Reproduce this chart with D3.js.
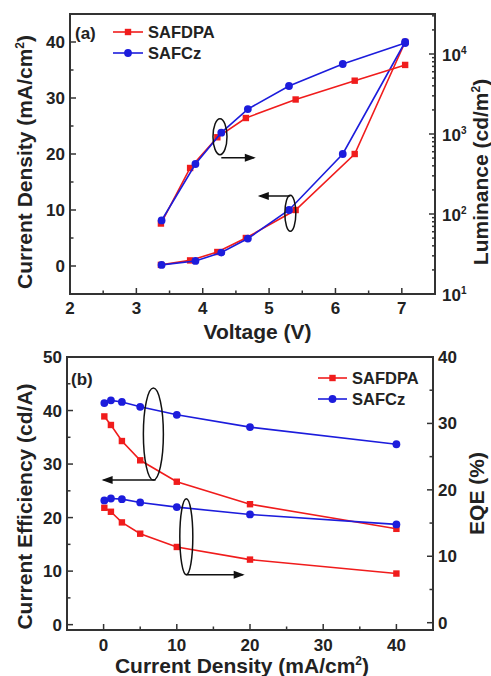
<!DOCTYPE html>
<html><head><meta charset="utf-8">
<script src="https://cdn.jsdelivr.net/npm/d3@7"></script>
<style>
html,body{margin:0;padding:0;background:#fff;}
text{font-family:"Liberation Sans",Arial,sans-serif;font-weight:bold;fill:#222;}
</style></head>
<body>
<svg id="chart" width="491" height="676"></svg>
<script>
// ---------- Data (a) ----------
const voltDPA   = [3.37, 3.81, 4.22, 4.65, 5.40, 6.29, 7.05];
const jDPA      = [0.2, 1.0, 2.5, 5.0, 10.0, 20.0, 40.0];
const lumDPA    = [76, 376, 910, 1585, 2700, 4640, 7300];
const voltCz    = [3.38, 3.89, 4.28, 4.68, 5.30, 6.11, 7.05];
const jCz       = [0.2, 0.9, 2.4, 4.9, 10.0, 20.0, 40.0];
const lumCz     = [83, 422, 1040, 2050, 3980, 7500, 13700];
const xTicksA   = [2, 3, 4, 5, 6, 7];
const yTicksA   = [0, 10, 20, 30, 40];
const lumExps   = [1, 2, 3, 4];
// ---------- Data (b) ----------
const cdJ       = [0.1, 1, 2.5, 5, 10, 20, 40];
const ceDPA     = [38.9, 37.3, 34.3, 30.7, 26.7, 22.5, 17.9];
const ceCz      = [41.4, 41.9, 41.6, 40.7, 39.2, 36.9, 33.7];
const eqeDPA    = [17.3, 16.7, 15.1, 13.4, 11.4, 9.5, 7.4];
const eqeCz     = [18.4, 18.7, 18.6, 18.1, 17.4, 16.3, 14.8];
const xTicksB   = [0, 10, 20, 30, 40];
const yTicksB   = [0, 10, 20, 30, 40, 50];
const eqeTicks  = [0, 10, 20, 30, 40];
const seriesNames = ["SAFDPA", "SAFCz"];

const RED = "#f01c1c", BLUE = "#1c1cdc", AXIS = "#333";
const svg = d3.select("#chart");

function frame(g, L, R, T, B){
  g.append("rect").attr("x",L).attr("y",T).attr("width",R-L).attr("height",B-T)
    .attr("fill","none").attr("stroke",AXIS).attr("stroke-width",2);
}
function series(g, xs, ys, x, y, color, shape){
  const pts = xs.map((v,i)=>[x(v), y(ys[i])]);
  g.append("path").attr("d", d3.line()(pts)).attr("fill","none")
    .attr("stroke",color).attr("stroke-width",1.6);
  pts.forEach(p=>{
    if(shape==="sq") g.append("rect").attr("x",p[0]-3.2).attr("y",p[1]-3.2).attr("width",6.4).attr("height",6.4).attr("fill",color);
    else g.append("circle").attr("cx",p[0]).attr("cy",p[1]).attr("r",3.9).attr("fill",color);
  });
}
function vTicks(g, vals, y, xPos, dir, len){
  vals.forEach(v=>g.append("line").attr("x1",xPos).attr("x2",xPos+dir*len)
    .attr("y1",y(v)).attr("y2",y(v)).attr("stroke",AXIS).attr("stroke-width",1.5));
}
function hTicks(g, vals, x, yPos, len){
  vals.forEach(v=>g.append("line").attr("x1",x(v)).attr("x2",x(v))
    .attr("y1",yPos).attr("y2",yPos-len).attr("stroke",AXIS).attr("stroke-width",1.5));
}
function ellipse(g, cx, cy, rx, ry){
  g.append("ellipse").attr("cx",cx).attr("cy",cy).attr("rx",rx).attr("ry",ry)
    .attr("fill","none").attr("stroke","#111").attr("stroke-width",1.5);
}
function arrow(g, x1, x2, y){
  g.append("line").attr("x1",x1).attr("x2",x2).attr("y1",y).attr("y2",y)
    .attr("stroke","#111").attr("stroke-width",1.5);
  const d = x2 > x1 ? 1 : -1;
  g.append("path").attr("d",`M${x2+d*2},${y} L${x2-d*9},${y-4} L${x2-d*9},${y+4} Z`).attr("fill","#111");
}
function legend(g, x0, x1, xt, ys, fs){
  [[RED,"sq"],[BLUE,"ci"]].forEach((c,i)=>{
    const y = ys[i];
    g.append("line").attr("x1",x0).attr("x2",x1).attr("y1",y).attr("y2",y).attr("stroke",c[0]).attr("stroke-width",1.6);
    const m = (x0+x1)/2;
    if(c[1]==="sq") g.append("rect").attr("x",m-3.2).attr("y",y-3.2).attr("width",6.4).attr("height",6.4).attr("fill",c[0]);
    else g.append("circle").attr("cx",m).attr("cy",y).attr("r",3.9).attr("fill",c[0]);
    g.append("text").attr("x",xt).attr("y",y+6).attr("font-size",fs).text(seriesNames[i]);
  });
}

// ================= Panel (a) =================
{
  const L=70, R=435, T=14, B=294;
  const g = svg.append("g");
  const x = d3.scaleLinear().domain([2,7.5]).range([L,R]);
  const y = d3.scaleLinear().domain([-5,45]).range([B,T]);
  const yl = d3.scaleLog().domain([10, Math.pow(10,4.5)]).range([B,T]);

  frame(g,L,R,T,B);
  hTicks(g, xTicksA, x, B, 6);
  hTicks(g, d3.range(2.5,7.5,1), x, B, 3.5);
  vTicks(g, yTicksA, y, L, 1, 6);
  vTicks(g, [-5,5,15,25,35], y, L, 1, 3.5);
  lumExps.forEach(e=>{
    vTicks(g,[Math.pow(10,e)], yl, R, -1, 6);
    d3.range(2,10).forEach(k=>{
      const v = k*Math.pow(10,e);
      if(v < Math.pow(10,4.5)) vTicks(g,[v], yl, R, -1, 3);
    });
  });

  xTicksA.forEach(v=>g.append("text").attr("x",x(v)).attr("y",B+20).attr("text-anchor","middle").attr("font-size",17).text(v));
  yTicksA.forEach(v=>g.append("text").attr("x",L-5).attr("y",y(v)+6).attr("text-anchor","end").attr("font-size",17).text(v));
  lumExps.forEach(e=>{
    const t = g.append("text").attr("x",R+7).attr("y",yl(Math.pow(10,e))+7).attr("font-size",17);
    t.append("tspan").text("10");
    t.append("tspan").attr("dy",-7).attr("font-size",10).text(e);
  });

  series(g, voltDPA, jDPA, x, y, RED, "sq");
  series(g, voltCz, jCz, x, y, BLUE, "ci");
  series(g, voltDPA, lumDPA, x, yl, RED, "sq");
  series(g, voltCz, lumCz, x, yl, BLUE, "ci");

  ellipse(g, x(4.26), y(23.1), 7, 18);
  arrow(g, x(4.28), x(4.77), y(23.1)+21);
  ellipse(g, x(5.32), y(9.4), 5.5, 18);
  g.append("line").attr("x1",x(5.32)).attr("x2",x(5.32)).attr("y1",y(9.4)-18).attr("y2",y(12.5)).attr("stroke","#111").attr("stroke-width",1.5);
  arrow(g, x(5.32), x(4.86), y(12.5));

  legend(g, 113, 143, 148, [32,53], 16.5);
  g.append("text").attr("x",75).attr("y",39).attr("font-size",17).text("(a)");

  g.append("text").attr("x",(L+R)/2+5).attr("y",339).attr("text-anchor","middle").attr("font-size",21).text("Voltage (V)");
  const lt = g.append("text").attr("transform",`translate(32,${(T+B)/2+8}) rotate(-90)`).attr("text-anchor","middle").attr("font-size",21);
  lt.append("tspan").text("Current Density (mA/cm");
  lt.append("tspan").attr("dy",-8).attr("font-size",12).text("2");
  lt.append("tspan").attr("dy",8).text(")");
  const rt = g.append("text").attr("transform",`translate(488,${(T+B)/2+18}) rotate(-90)`).attr("text-anchor","middle").attr("font-size",21);
  rt.append("tspan").text("Luminance (cd/m");
  rt.append("tspan").attr("dy",-8).attr("font-size",12).text("2");
  rt.append("tspan").attr("dy",8).text(")");
}

// ================= Panel (b) =================
{
  const L=67, R=433, T=357, B=630;
  const g = svg.append("g");
  const x = d3.scaleLinear().domain([-5,45]).range([L,R]);
  const y = d3.scaleLinear().domain([-1,50]).range([B,T]);
  const ye = d3.scaleLinear().domain([-1.1,40]).range([B,T]);

  frame(g,L,R,T,B);
  hTicks(g, xTicksB, x, B, 6);
  hTicks(g, [5,15,25,35], x, B, 3.5);
  vTicks(g, yTicksB, y, L, 1, 6);
  vTicks(g, [5,15,25,35,45], y, L, 1, 3.5);
  vTicks(g, eqeTicks, ye, R, -1, 6);
  vTicks(g, [5,15,25,35], ye, R, -1, 3.5);

  xTicksB.forEach(v=>g.append("text").attr("x",x(v)).attr("y",B+21).attr("text-anchor","middle").attr("font-size",17).text(v));
  yTicksB.forEach(v=>g.append("text").attr("x",L-5).attr("y",y(v)+6).attr("text-anchor","end").attr("font-size",17).text(v));
  eqeTicks.forEach(v=>g.append("text").attr("x",R+5).attr("y",ye(v)+6).attr("font-size",17).text(v));

  series(g, cdJ, ceDPA, x, y, RED, "sq");
  series(g, cdJ, ceCz, x, y, BLUE, "ci");
  series(g, cdJ, eqeDPA, x, ye, RED, "sq");
  series(g, cdJ, eqeCz, x, ye, BLUE, "ci");

  ellipse(g, x(6.8), y(35.6), 10, 46);
  arrow(g, x(7.1), x(0), y(27.0));
  ellipse(g, x(11.3), y(16.4), 6.5, 38);
  arrow(g, x(11.3), x(19.0), y(9.3));

  legend(g, 318, 347, 352, [378,399], 16.5);
  g.append("text").attr("x",71).attr("y",385).attr("font-size",17).text("(b)");

  const xt = g.append("text").attr("x",242).attr("y",673).attr("text-anchor","middle").attr("font-size",21);
  xt.append("tspan").text("Current Density (mA/cm");
  xt.append("tspan").attr("dy",-8).attr("font-size",12).text("2");
  xt.append("tspan").attr("dy",8).text(")");
  g.append("text").attr("transform",`translate(32,${(T+B)/2+13}) rotate(-90)`).attr("text-anchor","middle").attr("font-size",21).text("Current Efficiency (cd/A)");
  g.append("text").attr("transform",`translate(484,${(T+B)/2}) rotate(-90)`).attr("text-anchor","middle").attr("font-size",21).text("EQE (%)");
}
</script>
</body></html>
